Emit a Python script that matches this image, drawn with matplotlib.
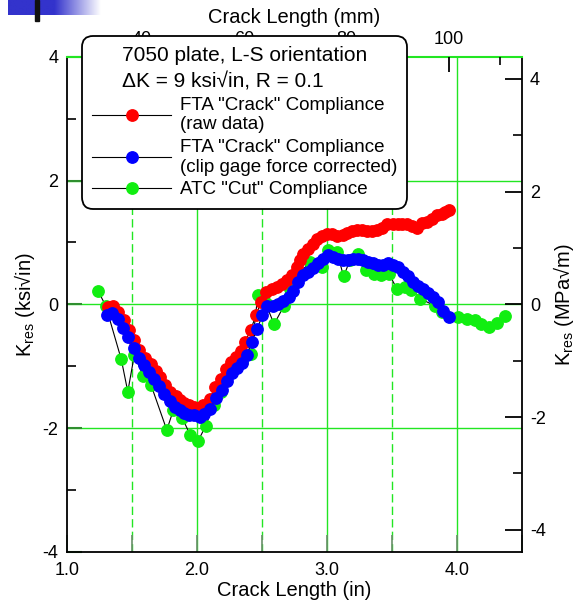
import matplotlib
matplotlib.use('Agg')
import matplotlib.pyplot as plt
import numpy as np
from matplotlib.patches import Rectangle
from matplotlib.ticker import FixedLocator, NullFormatter

plt.rcParams['font.family'] = ['Liberation Sans', 'DejaVu Sans']
plt.rcParams['mathtext.default'] = 'regular'
plt.rcParams['axes.unicode_minus'] = False

# FTA "Crack" compliance, raw data
raw_a = [1.315, 1.359, 1.397, 1.443, 1.482, 1.52, 1.559, 1.602, 1.646, 1.685,
         1.72, 1.756, 1.797, 1.838, 1.872, 1.905, 1.941, 1.977, 2.018, 2.051,
         2.10, 2.14, 2.185, 2.223, 2.262, 2.30, 2.338, 2.372, 2.415, 2.456,
         2.495, 2.533, 2.577, 2.615, 2.654, 2.692, 2.731, 2.769, 2.795, 2.82,
         2.858, 2.892, 2.928, 2.966, 3.005, 3.043, 3.082, 3.123, 3.159, 3.197,
         3.236, 3.274, 3.312, 3.351, 3.39, 3.428, 3.466, 3.508, 3.546, 3.577,
         3.615, 3.654, 3.692, 3.731, 3.769, 3.808, 3.846, 3.885, 3.91, 3.943]
raw_k = [-0.04, -0.02, -0.12, -0.26, -0.41, -0.57, -0.74, -0.86, -0.97, -1.08,
         -1.18, -1.31, -1.41, -1.48, -1.55, -1.59, -1.63, -1.65, -1.67, -1.63,
         -1.53, -1.34, -1.20, -1.04, -0.93, -0.85, -0.75, -0.61, -0.41, -0.18,
         0.04, 0.20, 0.24, 0.28, 0.33, 0.40, 0.48, 0.60, 0.71, 0.82,
         0.90, 0.98, 1.06, 1.10, 1.13, 1.13, 1.11, 1.12, 1.15, 1.18,
         1.20, 1.20, 1.19, 1.19, 1.20, 1.24, 1.29, 1.30, 1.30, 1.30,
         1.29, 1.26, 1.24, 1.31, 1.33, 1.38, 1.44, 1.46, 1.49, 1.53]

# FTA "Crack" compliance, clip gage force corrected
corr_a = [1.308, 1.346, 1.392, 1.436, 1.474, 1.515, 1.554, 1.592, 1.633, 1.672,
          1.71, 1.751, 1.792, 1.833, 1.872, 1.905, 1.943, 1.982, 2.025, 2.058,
          2.105, 2.148, 2.192, 2.231, 2.269, 2.308, 2.346, 2.385, 2.423, 2.466,
          2.505, 2.543, 2.59, 2.628, 2.666, 2.71, 2.743, 2.782, 2.82, 2.858,
          2.897, 2.936, 2.974, 3.013, 3.05, 3.09, 3.128, 3.166, 3.205, 3.243,
          3.282, 3.32, 3.358, 3.397, 3.436, 3.474, 3.513, 3.551, 3.585, 3.628,
          3.667, 3.705, 3.744, 3.782, 3.82, 3.859, 3.897, 3.943]
corr_k = [-0.17, -0.14, -0.23, -0.38, -0.53, -0.70, -0.87, -0.98, -1.10, -1.21,
          -1.32, -1.45, -1.56, -1.65, -1.71, -1.75, -1.78, -1.79, -1.82, -1.77,
          -1.69, -1.52, -1.38, -1.24, -1.11, -1.02, -0.95, -0.82, -0.61, -0.39,
          -0.18, -0.03, -0.02, 0.01, 0.05, 0.12, 0.22, 0.36, 0.47, 0.52,
          0.59, 0.66, 0.74, 0.79, 0.77, 0.74, 0.71, 0.71, 0.74, 0.74,
          0.71, 0.68, 0.66, 0.63, 0.63, 0.66, 0.64, 0.60, 0.52, 0.45,
          0.36, 0.29, 0.24, 0.18, 0.12, 0.04, -0.10, -0.20]

# ATC "Cut" compliance
cut_a = [1.24, 1.30, 1.42, 1.47, 1.52, 1.59, 1.65, 1.77, 1.82, 1.89,
         1.95, 2.01, 2.07, 2.13, 2.19, 2.27, 2.35, 2.42, 2.47, 2.53,
         2.595, 2.67, 2.72, 2.78, 2.87, 2.96, 3.01, 3.08, 3.13, 3.18,
         3.24, 3.30, 3.36, 3.42, 3.48, 3.54, 3.60, 3.65, 3.72, 3.83,
         3.89, 4.01, 4.08, 4.14, 4.19, 4.25, 4.31, 4.37]
cut_k = [0.22, -0.02, -0.89, -1.41, -0.82, -1.16, -1.31, -2.03, -1.71, -1.84,
         -2.11, -2.21, -1.96, -1.62, -1.41, -1.04, -0.93, -0.80, 0.15, 0.02,
         -0.32, -0.03, 0.25, 0.48, 0.68, 0.60, 0.88, 0.84, 0.45, 0.72,
         0.81, 0.56, 0.49, 0.48, 0.49, 0.25, 0.28, 0.23, 0.09, -0.02,
         -0.12, -0.20, -0.23, -0.25, -0.32, -0.37, -0.30, -0.19]

legend_title = '7050 plate, L-S orientation\n\u0394K = 9 ksi\u221ain, R = 0.1'
series_labels = ['FTA "Crack" Compliance\n(raw data)',
                 'FTA "Crack" Compliance\n(clip gage force corrected)',
                 'ATC "Cut" Compliance']

IN_TO_MM = 25.4
KSI_TO_MPA = 1.0988

GRID = '#22e622'
TICKGREEN = '#2f8f2f'


def main():
    fig = plt.figure(figsize=(5.82, 6.04), dpi=100)
    ax = fig.add_axes([0.1146, 0.0861, 0.7818, 0.82])

    ax.set_xlim(1.0, 4.5)
    ax.set_ylim(-4, 4)

    # grid, solid on whole inches / even K, dashed on half inches
    for g in [2.0, 3.0, 4.0]:
        ax.axvline(g, color=GRID, lw=1.0, zorder=0)
    for g in [1.5, 2.5, 3.5]:
        ax.axvline(g, color=GRID, lw=1.0, ls=(0, (6, 3)), zorder=0)
    for g in [-2, 0, 2]:
        ax.axhline(g, color=GRID, lw=1.0, zorder=0)

    ms = 8.2
    green, = ax.plot(cut_a, cut_k, '-o', color='black', lw=0.8, mfc='#11ee11',
                     mec='#11ee11', ms=ms, label=series_labels[2], zorder=2)
    red, = ax.plot(raw_a, raw_k, '-o', color='black', lw=0.8, mfc='#ff0000',
                   mec='#ff0000', ms=ms, label=series_labels[0], zorder=3)
    blue, = ax.plot(corr_a, corr_k, '-o', color='black', lw=0.8, mfc='#0000ff',
                    mec='#0000ff', ms=ms, label=series_labels[1], zorder=4)

    # bottom / left axes
    ax.xaxis.set_major_locator(FixedLocator([1.0, 2.0, 3.0, 4.0]))
    ax.xaxis.set_minor_locator(FixedLocator([1.5, 2.5, 3.5, 4.5]))
    ax.set_xticklabels(['1.0', '2.0', '3.0', '4.0'])
    ax.tick_params(axis='x', which='both', direction='in', length=12.5, width=1.2,
                   color='#6a8f6a', top=False, labelsize=13, pad=7)
    ax.yaxis.set_major_locator(FixedLocator([-4, -2, 0, 2, 4]))
    ax.yaxis.set_minor_locator(FixedLocator([-3, -1, 1, 3]))
    ax.tick_params(axis='y', which='major', direction='in', length=11, width=1.5,
                   color=TICKGREEN, right=False, labelsize=13, pad=6)
    ax.tick_params(axis='y', which='minor', direction='in', length=6.5, width=1.2,
                   color='black', right=False)
    for side in ['left', 'bottom', 'right']:
        ax.spines[side].set_color('black')
        ax.spines[side].set_linewidth(1.3)
    ax.spines['top'].set_color(GRID)
    ax.spines['top'].set_linewidth(1.5)
    ax.set_xlabel('Crack Length (in)', fontsize=14.5, labelpad=2)
    ax.set_ylabel('K$_{res}$ (ksi\u221ain)', fontsize=14.5, labelpad=4)

    # right axis in MPa sqrt(m)
    axr = ax.twinx()
    axr.set_ylim(-4 * KSI_TO_MPA, 4 * KSI_TO_MPA)
    axr.yaxis.set_major_locator(FixedLocator([-4, -2, 0, 2, 4]))
    axr.yaxis.set_minor_locator(FixedLocator([-3, -1, 1, 3]))
    axr.tick_params(axis='y', which='major', direction='in', length=12, width=1.3,
                    color='black', labelsize=13, pad=6)
    axr.tick_params(axis='y', which='minor', direction='in', length=6.5, width=1.2,
                    color='black')
    axr.set_ylabel('K$_{res}$ (MPa\u221am)', fontsize=14.5, labelpad=4)

    # top axis in mm
    axt = ax.twiny()
    axt.set_xlim(1.0 * IN_TO_MM, 4.5 * IN_TO_MM)
    axt.xaxis.set_major_locator(FixedLocator([40, 60, 80, 100]))
    axt.xaxis.set_minor_locator(FixedLocator([30, 50, 70, 90, 110]))
    axt.xaxis.set_minor_formatter(NullFormatter())
    axt.tick_params(axis='x', which='major', direction='in', length=11, width=1.3,
                    color='black', labelsize=13, pad=6)
    axt.tick_params(axis='x', which='minor', direction='in', length=6, width=1.2,
                    color='black')
    axt.set_xlabel('Crack Length (mm)', fontsize=14.5, labelpad=6)

    for a in (axr, axt):
        for sp in a.spines.values():
            sp.set_visible(False)

    leg = fig.legend(handles=[red, blue, green], labels=series_labels,
                     title=legend_title, loc='upper left',
                     bbox_to_anchor=(82 / 582, 1 - 36 / 604),
                     fontsize=13.5, title_fontsize=15, frameon=True,
                     fancybox=True, framealpha=1, edgecolor='black',
                     handlelength=4.2, handletextpad=0.45, borderpad=0.55,
                     labelspacing=0.3, borderaxespad=0, markerscale=1.0)
    leg.get_title().set_linespacing(1.45)
    for t in leg.get_texts():
        t.set_linespacing(1.2)
    leg.get_frame().set_linewidth(1.3)
    leg.get_frame().set_boxstyle('round', pad=0, rounding_size=0.6)

    # slide decoration in the upper left corner
    deco = fig.add_axes([8 / 582, 1 - 15 / 604, 93 / 582, 15 / 604])
    grad = np.linspace(0, 1, 256).reshape(1, -1)
    cmap = matplotlib.colors.LinearSegmentedColormap.from_list(
        'fade', [(0.0, '#3333cc'), (0.5, '#3333cc'), (1.0, '#ffffff')])
    deco.imshow(grad, aspect='auto', cmap=cmap, extent=(0, 1, 0, 1))
    deco.axis('off')
    fig.patches.append(Rectangle((35 / 582, 1 - 21 / 604), 4 / 582, 21 / 604,
                                 transform=fig.transFigure, color='#111111',
                                 zorder=10))

    fig.savefig('out.png', dpi=100)


if __name__ == '__main__':
    main()
